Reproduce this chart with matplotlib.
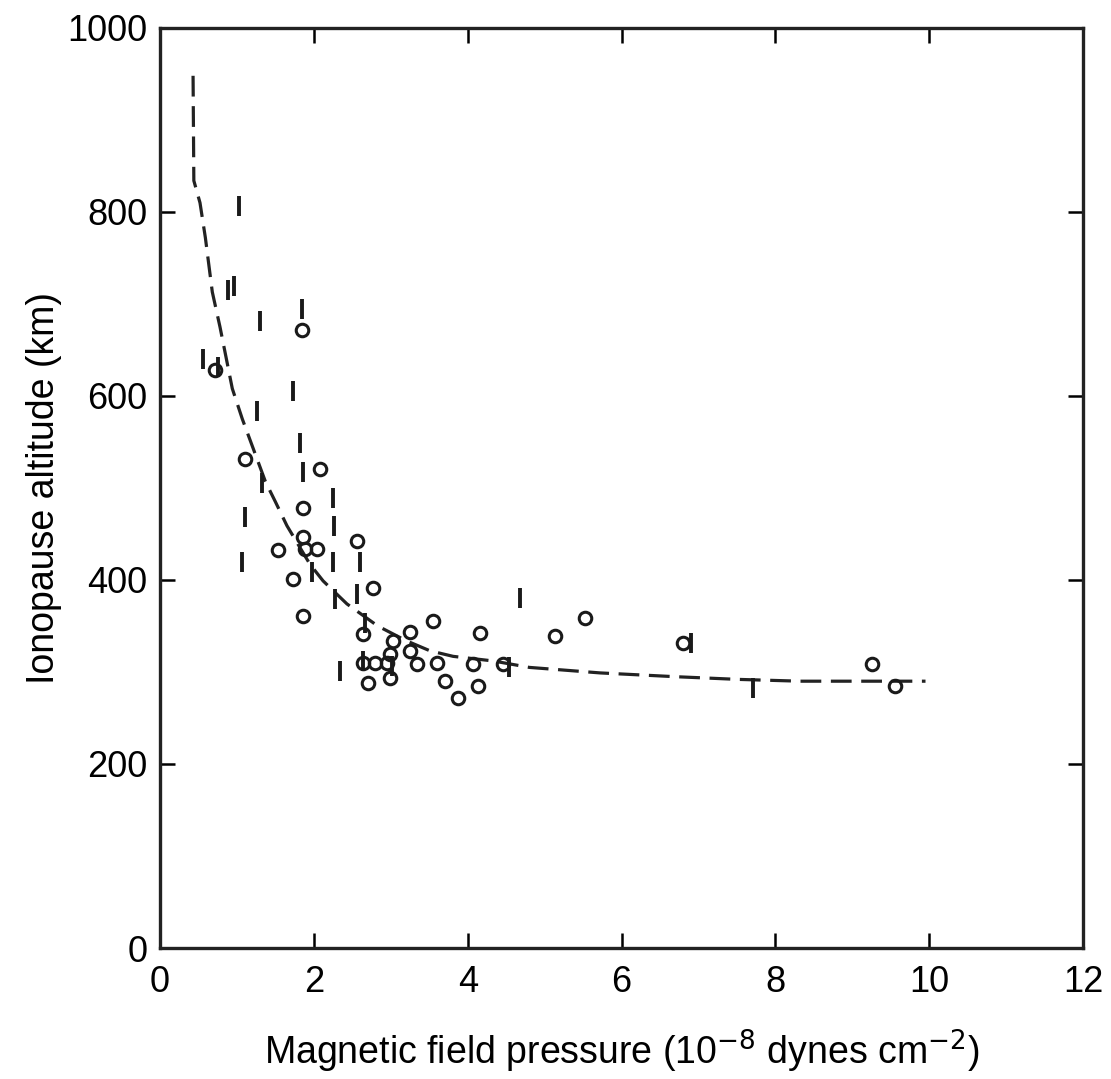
import matplotlib
matplotlib.use("Agg")
import matplotlib.pyplot as plt

plt.rcParams['font.family'] = ['Liberation Sans', 'DejaVu Sans']

# Fitted dashed curve
curve_x = [0.43, 0.44, 0.52, 0.59, 0.68, 0.78, 0.94, 1.07, 1.37, 1.50, 1.65,
           1.95, 2.12, 2.43, 2.83, 3.20, 3.51, 3.81, 4.33, 4.80, 5.72, 6.67,
           7.50, 8.32, 9.30, 9.95]
curve_y = [948, 834, 810, 772, 713, 675, 608, 575, 507, 485, 459,
           417, 399, 374, 350, 334, 323, 317, 312, 305, 299, 295,
           292, 290, 290, 290]

# Observations plotted as small circles
circ_x = [1.85, 0.72, 1.10, 2.08, 1.86, 1.86, 2.04, 1.89, 1.53, 1.73, 2.77,
          2.56, 1.86, 3.55, 2.64, 3.03, 3.25, 2.99, 3.25, 3.34, 2.64, 2.80,
          2.95, 2.70, 2.99, 3.60, 3.71, 3.88, 4.13, 4.07, 4.46, 4.16, 5.14,
          5.53, 6.80, 9.26, 9.56]
circ_y = [672, 628, 531, 521, 478, 447, 434, 434, 433, 401, 391,
          442, 361, 355, 341, 334, 344, 320, 323, 309, 310, 310,
          310, 288, 294, 310, 290, 272, 285, 309, 309, 342, 339,
          359, 332, 309, 285]

# Observations plotted as short vertical bars
bar_x = [1.03, 0.88, 0.96, 1.30, 1.85, 0.56, 0.75, 1.73, 1.26, 1.82, 1.86,
         1.33, 2.25, 1.10, 2.26, 2.60, 1.07, 2.25, 1.98, 2.56, 2.28, 2.66,
         2.34, 3.02, 2.64, 4.53, 4.68, 6.90, 7.71]
bar_y = [807, 715, 720, 682, 695, 640, 632, 605, 584, 549, 517,
         505, 489, 468, 459, 420, 420, 420, 409, 385, 379, 353,
         301, 307, 312, 305, 380, 332, 283]

x_ticks = [0, 2, 4, 6, 8, 10, 12]
y_ticks = [0, 200, 400, 600, 800, 1000]

fig = plt.figure(figsize=(11.11, 10.79), dpi=100)
ax = fig.add_axes([0.144, 0.1214, 0.831, 0.8527])

ax.plot(curve_x, curve_y, color='#222222', lw=2.3, linestyle=(0, (6.5, 3)))
ax.plot(circ_x, circ_y, linestyle='none', marker='o', markersize=9,
        mfc='none', mec='#1a1a1a', mew=2.2)
ax.plot(bar_x, bar_y, linestyle='none', marker='|', markersize=14,
        mec='#1a1a1a', mew=2.8)

ax.set_xlim(0, 12)
ax.set_ylim(0, 1000)
ax.set_xticks(x_ticks)
ax.set_yticks(y_ticks)
ax.tick_params(axis='both', direction='in', length=11, width=1.8,
               top=True, right=True, labelsize=26)
ax.tick_params(axis='x', pad=12)
ax.tick_params(axis='y', pad=9)
for s in ax.spines.values():
    s.set_linewidth(2.4)
    s.set_color('#222222')

ax.set_xlabel('Magnetic field pressure (10$^{-8}$ dynes cm$^{-2}$)',
              fontsize=27, labelpad=20)
ax.set_ylabel('Ionopause altitude (km)', fontsize=27, labelpad=4)

fig.savefig('out.png', dpi=100, facecolor='white')
